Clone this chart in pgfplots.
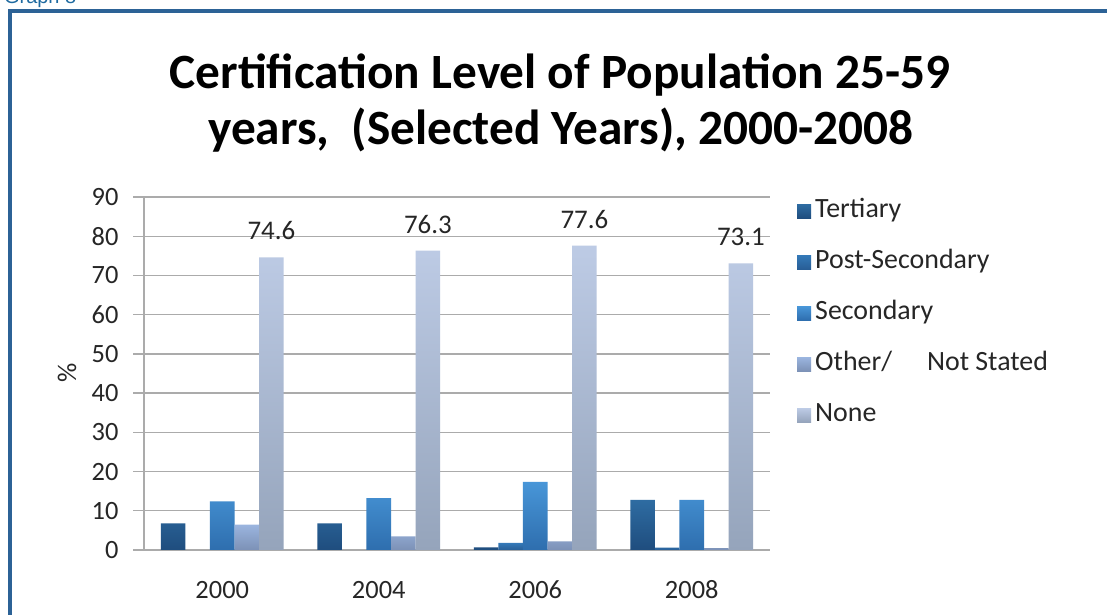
\documentclass[border=0pt]{standalone}
\usepackage{fontspec}
\setmainfont{Carlito}
\newfontfamily\lsans{Liberation Sans}
\usepackage{pgfplots}
\pgfplotsset{compat=1.18}
\definecolor{frameblue}{HTML}{2C6296}
\definecolor{graphtxt}{HTML}{1E6AA0}
\definecolor{gridgray}{HTML}{ABABAB}
\definecolor{txt}{HTML}{262626}
\definecolor{tT}{HTML}{2E6CA2}\definecolor{tB}{HTML}{1F4D7E}
\definecolor{pT}{HTML}{3479B8}\definecolor{pB}{HTML}{285E96}
\definecolor{sT}{HTML}{4896D8}\definecolor{sB}{HTML}{2E6EAE}
\definecolor{oT}{HTML}{9BB5DF}\definecolor{oB}{HTML}{7C91B6}
\definecolor{nT}{HTML}{BDCBE5}\definecolor{nB}{HTML}{95A4BB}
\begin{document}
\begin{tikzpicture}
\useasboundingbox (0bp,0bp) rectangle (1107bp,615bp);
\fill[white] (0bp,0bp) rectangle (1107bp,615bp);
% frame
\draw[line width=4bp, frameblue] (9.5bp,-20bp) -- (9.5bp,604bp) -- (1130bp,604bp);
\node[anchor=base west, inner sep=0, text=graphtxt, font=\lsans\fontsize{20}{22}\selectfont] at (4bp,611bp) {Graph 8};
% title
\node[font=\fontsize{49.5}{55}\selectfont\bfseries, text=black] at (560bp,540bp) {Certification Level of Population 25-59};
\node[font=\fontsize{49.5}{55}\selectfont\bfseries, text=black] at (561bp,485bp) {years,\ \ (Selected Years), 2000-2008};
\begin{axis}[
  at={(144bp,65bp)}, anchor=south west,
  scale only axis, width=626bp, height=353bp,
  xmin=-0.5, xmax=3.5, ymin=0, ymax=90,
  ytick={0,10,...,90},
  xtick={0,1,2,3},
  xticklabels={2000,2004,2006,2008},
  major x tick style={draw=none},
  extra x ticks={-0.5,0.5,1.5,2.5,3.5},
  extra x tick labels={},
  extra x tick style={major tick length=8bp, tick style={draw=gridgray, line width=1.3bp}, grid=none},
  tick align=outside,
  major tick length=11bp,
  ymajorgrids,
  grid style={gridgray, line width=1.3bp},
  y tick style={gridgray, line width=1.3bp},
  axis x line*=bottom, axis y line*=left,
  axis line style={gridgray, line width=1.3bp, -},
  /pgf/number format/assume math mode=true,
  tick label style={font=\fontsize{26.5}{29}\selectfont, text=txt},
  xticklabel style={anchor=base, yshift=-37bp},
  yticklabel style={xshift=-11bp},
  ybar=0pt, bar width=0.157,
  legend style={draw=none, fill=none, at={(1,1)}, anchor=north west, xshift=27bp, yshift=0bp,
    font=\fontsize{28}{30}\selectfont, text=txt, row sep=23bp, inner sep=0pt,
    nodes={inner sep=2bp, text height=18bp, text depth=6bp}},
  legend cell align=left,
  legend image code/.code={\fill[#1] (0bp,-7bp) rectangle (14bp,7bp);},
  clip=false,
]
\addplot[draw=none, top color=tT, bottom color=tB] coordinates {(0,6.8) (1,6.8) (2,0.7) (3,12.8)};
\addlegendentry{\hspace{2bp}Tertiary}
\addplot[draw=none, top color=pT, bottom color=pB] coordinates {(2,1.8) (3,0.6)};
\addlegendentry{\hspace{2bp}Post-Secondary}
\addplot[draw=none, top color=sT, bottom color=sB] coordinates {(0,12.4) (1,13.2) (2,17.4) (3,12.8)};
\addlegendentry{\hspace{2bp}Secondary}
\addplot[draw=none, top color=oT, bottom color=oB] coordinates {(0,6.5) (1,3.5) (2,2.2) (3,0.5)};
\addlegendentry{\hspace{2bp}Other/\hspace{35bp}Not Stated}
\addplot[draw=none, top color=nT, bottom color=nB,
  nodes near coords={\pgfmathprintnumber[fixed,fixed zerofill,precision=1,assume math mode=true]{\pgfplotspointmeta}},
  every node near coord/.append style={font=\fontsize{27}{30}\selectfont, text=txt, anchor=south, yshift=17bp, inner sep=0pt}
  ] coordinates {(0,74.6) (1,76.3) (2,77.6) (3,73.1)};
\addlegendentry{\hspace{2bp}None}
\end{axis}
\node[rotate=90, font=\fontsize{27}{30}\selectfont, text=txt] at (67bp,242bp) {\%};
\end{tikzpicture}
\end{document}
